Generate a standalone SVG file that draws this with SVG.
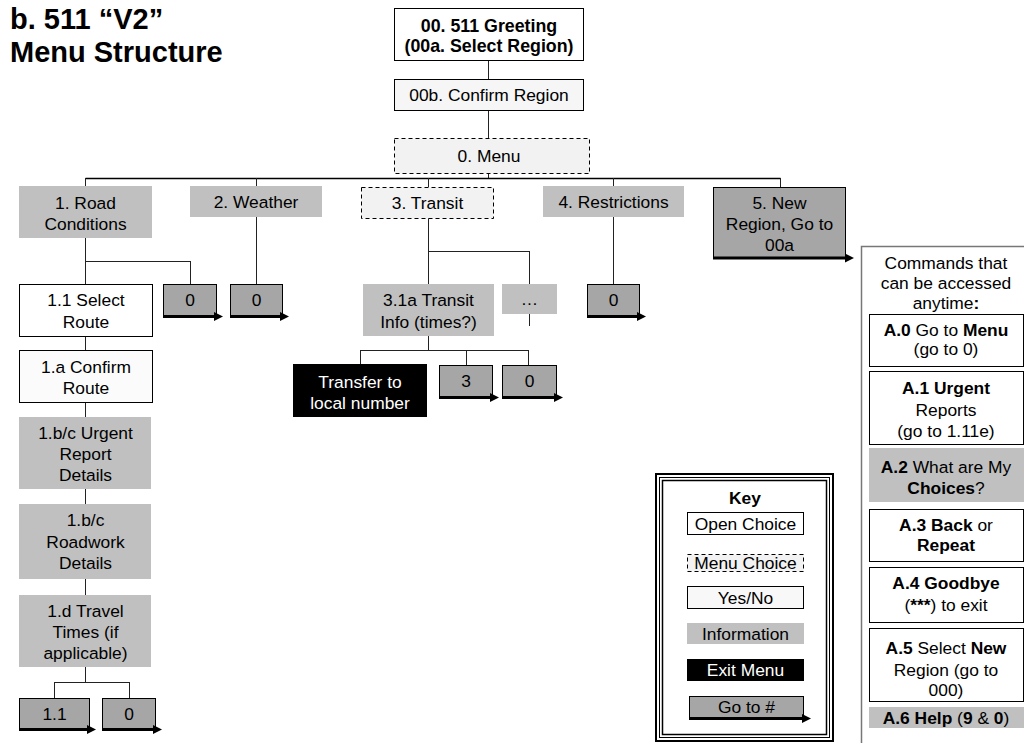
<svg xmlns="http://www.w3.org/2000/svg" width="1024" height="743" viewBox="0 0 1024 743">
<defs>
<style>
.t{font-family:"Liberation Sans",Arial,sans-serif;font-size:17.4px;text-anchor:middle;fill:#000}
.w{fill:#fff}
.b{font-weight:bold}
.title{font-family:"Liberation Sans",Arial,sans-serif;font-size:29px;font-weight:bold;fill:#000}
.info{fill:#c0c0c0}
.goto{fill:#a6a6a6;stroke:#000;stroke-width:1}
.open{fill:#fff;stroke:#000;stroke-width:1}
.yn{fill:#f6f6f6;stroke:#000;stroke-width:1}
.menu{fill:#f2f2f2;stroke:#000;stroke-width:1;stroke-dasharray:4 3}
.exit{fill:#000}
.conn line{stroke:#222;stroke-width:1;fill:none}
.thick{stroke:#000;stroke-width:3}
.panel{fill:#fff;stroke:#777;stroke-width:1.5}
.kb{fill:none;stroke:#000}
</style>
<marker id="ah" markerUnits="userSpaceOnUse" markerWidth="10" markerHeight="10" refX="2" refY="4.5" orient="auto">
<path d="M0,0 L9,4.5 L0,9 z" fill="#000"/>
</marker>
</defs>
<rect width="1024" height="743" fill="#fff"/>

<g id="title">
<text class="title" x="10" y="29">b. 511 “V2”</text>
<text class="title" x="10" y="62">Menu Structure</text>
</g>

<g id="connectors" class="conn">
<line x1="488.5" y1="60" x2="488.5" y2="80"/>
<line x1="488.5" y1="110" x2="488.5" y2="138"/>
<line x1="488.5" y1="173" x2="488.5" y2="178"/>
<line x1="85.5" y1="178.5" x2="780.5" y2="178.5" style="stroke:#000;stroke-width:1.5"/>
<line x1="85.5" y1="178" x2="85.5" y2="186"/>
<line x1="256.5" y1="178" x2="256.5" y2="186"/>
<line x1="428.5" y1="178" x2="428.5" y2="187"/>
<line x1="613.5" y1="178" x2="613.5" y2="186"/>
<line x1="780.5" y1="178" x2="780.5" y2="187"/>
<line x1="85.5" y1="238" x2="85.5" y2="284"/>
<line x1="85.5" y1="261.5" x2="190.5" y2="261.5"/>
<line x1="190.5" y1="261" x2="190.5" y2="284"/>
<line x1="256.5" y1="217" x2="256.5" y2="284"/>
<line x1="428.5" y1="218" x2="428.5" y2="284"/>
<line x1="428.5" y1="251.5" x2="529.5" y2="251.5"/>
<line x1="529.5" y1="251" x2="529.5" y2="284"/>
<line x1="529.5" y1="314" x2="529.5" y2="326"/>
<line x1="613.5" y1="217" x2="613.5" y2="284"/>
<line x1="85.5" y1="336" x2="85.5" y2="350"/>
<line x1="85.5" y1="402" x2="85.5" y2="417"/>
<line x1="85.5" y1="489" x2="85.5" y2="504"/>
<line x1="85.5" y1="579" x2="85.5" y2="595"/>
<line x1="85.5" y1="667" x2="85.5" y2="682"/>
<line x1="54.5" y1="682.5" x2="129.5" y2="682.5"/>
<line x1="54.5" y1="682" x2="54.5" y2="698"/>
<line x1="129.5" y1="682" x2="129.5" y2="698"/>
<line x1="428.5" y1="336" x2="428.5" y2="350"/>
<line x1="360.5" y1="350.5" x2="528.5" y2="350.5"/>
<line x1="360.5" y1="350" x2="360.5" y2="364"/>
<line x1="466.5" y1="350" x2="466.5" y2="365"/>
<line x1="528.5" y1="350" x2="528.5" y2="365"/>
</g>

<g id="n00">
<rect class="open" x="394.5" y="8.5" width="189" height="52"/>
<text class="t b" x="489" y="32" style="font-size:17.8px">00. 511 Greeting</text>
<text class="t b" x="489" y="52" style="font-size:17.8px">(00a. Select Region)</text>
</g>
<g id="n00b">
<rect class="yn" x="394.5" y="79.5" width="189" height="31"/>
<text class="t" x="489" y="101">00b. Confirm Region</text>
</g>
<g id="n0">
<rect class="menu" x="394.5" y="138.5" width="195" height="35"/>
<text class="t" x="489" y="162">0. Menu</text>
</g>

<g id="n1">
<rect class="info" x="19" y="186" width="133" height="52"/>
<text class="t" x="85.5" y="209">1. Road</text>
<text class="t" x="85.5" y="230">Conditions</text>
</g>
<g id="n2">
<rect class="info" x="190" y="186" width="132" height="31"/>
<text class="t" x="256" y="208">2. Weather</text>
</g>
<g id="n3">
<rect class="menu" x="361.5" y="187.5" width="132" height="31"/>
<text class="t" x="427.5" y="209">3. Transit</text>
</g>
<g id="n4">
<rect class="info" x="543" y="186" width="141" height="31"/>
<text class="t" x="613.5" y="208">4. Restrictions</text>
</g>
<g id="n5">
<rect class="goto" x="713.5" y="187.5" width="132" height="70"/>
<line class="thick" x1="713" y1="258" x2="847" y2="258" marker-end="url(#ah)"/>
<text class="t" x="779.5" y="209">5. New</text>
<text class="t" x="779.5" y="230">Region, Go to</text>
<text class="t" x="779.5" y="251">00a</text>
</g>

<g id="n1_0">
<rect class="goto" x="163.5" y="284.5" width="53" height="31"/>
<line class="thick" x1="163" y1="316.5" x2="216" y2="316.5" marker-end="url(#ah)"/>
<text class="t" x="190" y="306">0</text>
</g>
<g id="n2_0">
<rect class="goto" x="230.5" y="284.5" width="52" height="31"/>
<line class="thick" x1="230" y1="316.5" x2="282" y2="316.5" marker-end="url(#ah)"/>
<text class="t" x="256.5" y="306">0</text>
</g>
<g id="n4_0">
<rect class="goto" x="587.5" y="284.5" width="52" height="31"/>
<line class="thick" x1="587" y1="316.5" x2="639" y2="316.5" marker-end="url(#ah)"/>
<text class="t" x="613.5" y="306">0</text>
</g>

<g id="n11">
<rect class="open" x="19.5" y="284.5" width="133" height="52"/>
<text class="t" x="86" y="306">1.1 Select</text>
<text class="t" x="86" y="328">Route</text>
</g>
<g id="n1a">
<rect class="open" x="19.5" y="350.5" width="133" height="52" style="fill:#fbfbfb"/>
<text class="t" x="86" y="373">1.a Confirm</text>
<text class="t" x="86" y="394">Route</text>
</g>
<g id="n1bc_u">
<rect class="info" x="19" y="417" width="132" height="72"/>
<text class="t" x="85.5" y="439">1.b/c Urgent</text>
<text class="t" x="85.5" y="460">Report</text>
<text class="t" x="85.5" y="481">Details</text>
</g>
<g id="n1bc_r">
<rect class="info" x="19" y="504" width="132" height="75"/>
<text class="t" x="85.5" y="526">1.b/c</text>
<text class="t" x="85.5" y="548">Roadwork</text>
<text class="t" x="85.5" y="569">Details</text>
</g>
<g id="n1d">
<rect class="info" x="19" y="595" width="132" height="72"/>
<text class="t" x="85.5" y="617">1.d Travel</text>
<text class="t" x="85.5" y="638">Times (if</text>
<text class="t" x="85.5" y="659">applicable)</text>
</g>
<g id="n1d_11">
<rect class="goto" x="19.5" y="698.5" width="70" height="30"/>
<line class="thick" x1="19" y1="729.5" x2="89" y2="729.5" marker-end="url(#ah)"/>
<text class="t" x="54.5" y="720">1.1</text>
</g>
<g id="n1d_0">
<rect class="goto" x="102.5" y="698.5" width="53" height="30"/>
<line class="thick" x1="102" y1="729.5" x2="155" y2="729.5" marker-end="url(#ah)"/>
<text class="t" x="129" y="720">0</text>
</g>

<g id="n31a">
<rect class="info" x="363" y="284" width="131" height="52"/>
<text class="t" x="428.5" y="306">3.1a Transit</text>
<text class="t" x="428.5" y="328">Info (times?)</text>
</g>
<g id="ndots">
<rect class="info" x="502" y="284" width="55" height="30"/>
<text class="t" x="529.5" y="305">…</text>
</g>
<g id="ntransfer">
<rect class="exit" x="293" y="364" width="134" height="53"/>
<text class="t w" x="360" y="388">Transfer to</text>
<text class="t w" x="360" y="409">local number</text>
</g>
<g id="n3_3">
<rect class="goto" x="439.5" y="365.5" width="53" height="31"/>
<line class="thick" x1="439" y1="397.5" x2="492" y2="397.5" marker-end="url(#ah)"/>
<text class="t" x="466" y="387">3</text>
</g>
<g id="n3_0">
<rect class="goto" x="502.5" y="365.5" width="54" height="31"/>
<line class="thick" x1="502" y1="397.5" x2="556" y2="397.5" marker-end="url(#ah)"/>
<text class="t" x="529.5" y="387">0</text>
</g>

<g id="key">
<rect class="kb" x="656" y="474" width="177" height="267" stroke-width="2"/>
<rect class="kb" x="659.5" y="477.5" width="170" height="260" stroke-width="1"/>
<rect class="kb" x="662.5" y="480.5" width="164" height="254" stroke-width="1.5"/>
<text class="t b" x="745" y="504">Key</text>
<rect class="open" x="687.5" y="512.5" width="116" height="22"/>
<text class="t" x="745.5" y="530">Open Choice</text>
<rect class="menu" x="687.5" y="554.5" width="116" height="17"/>
<text class="t" x="745.5" y="569">Menu Choice</text>
<rect class="yn" x="687.5" y="586.5" width="116" height="22" style="fill:#f8f8f8"/>
<text class="t" x="745.5" y="604">Yes/No</text>
<rect class="info" x="687" y="623" width="117" height="21"/>
<text class="t" x="745.5" y="640">Information</text>
<rect class="exit" x="687" y="659" width="117" height="22"/>
<text class="t w" x="745.5" y="676">Exit Menu</text>
<rect class="goto" x="689.5" y="696.5" width="114" height="21"/>
<line class="thick" x1="689" y1="718.5" x2="804" y2="718.5" marker-end="url(#ah)"/>
<text class="t" x="746.5" y="713">Go to #</text>
</g>

<g id="commands">
<rect class="panel" x="861.5" y="246.5" width="200" height="520"/>
<text class="t" x="946" y="269">Commands that</text>
<text class="t" x="946" y="289">can be accessed</text>
<text class="t" x="946" y="309">anytime<tspan class="b">:</tspan></text>
</g>
<g id="a0">
<rect class="open" x="869.5" y="314.5" width="154" height="52"/>
<text class="t" x="946" y="336"><tspan class="b">A.0</tspan> Go to <tspan class="b">Menu</tspan></text>
<text class="t" x="946" y="355">(go to 0)</text>
</g>
<g id="a1">
<rect class="open" x="869.5" y="371.5" width="154" height="73"/>
<text class="t b" x="946" y="394">A.1 Urgent</text>
<text class="t" x="946" y="416">Reports</text>
<text class="t" x="946" y="437">(go to 1.11e)</text>
</g>
<g id="a2">
<rect class="info" x="869" y="448" width="155" height="54"/>
<text class="t" x="946" y="473"><tspan class="b">A.2</tspan> What are My</text>
<text class="t" x="946" y="494"><tspan class="b">Choices</tspan>?</text>
</g>
<g id="a3">
<rect class="open" x="869.5" y="509.5" width="154" height="52"/>
<text class="t" x="946" y="531"><tspan class="b">A.3 Back</tspan> or</text>
<text class="t b" x="946" y="551">Repeat</text>
</g>
<g id="a4">
<rect class="open" x="869.5" y="567.5" width="154" height="55"/>
<text class="t b" x="946" y="589">A.4 Goodbye</text>
<text class="t" x="946" y="611">(<tspan class="b">***</tspan>) to exit</text>
</g>
<g id="a5">
<rect class="open" x="869.5" y="628.5" width="154" height="73"/>
<text class="t" x="946" y="654"><tspan class="b">A.5</tspan> Select <tspan class="b">New</tspan></text>
<text class="t" x="946" y="676">Region (go to</text>
<text class="t" x="946" y="696">000)</text>
</g>
<g id="a6">
<rect class="info" x="869" y="707" width="155" height="21"/>
<text class="t" x="946" y="724"><tspan class="b">A.6 Help</tspan> (<tspan class="b">9</tspan> &amp; <tspan class="b">0</tspan>)</text>
</g>
</svg>
